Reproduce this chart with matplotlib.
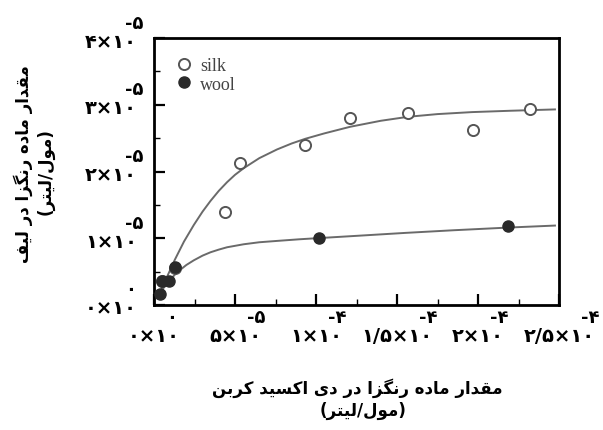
import numpy as np
import matplotlib.pyplot as plt
from matplotlib.ticker import MultipleLocator, FixedLocator

# ---------- data (mol/L) ----------
# silk (open circles)
silk_x = np.array([0.49, 1.27, 4.41, 5.28, 9.34, 12.11, 15.70, 19.70, 23.21]) * 1e-5
silk_y = np.array([0.36, 0.56, 1.39, 2.12, 2.40, 2.80, 2.87, 2.62, 2.94]) * 1e-5
# wool (filled circles)
wool_x = np.array([0.35, 0.49, 0.90, 1.27, 10.16, 21.86]) * 1e-5
wool_y = np.array([0.165, 0.36, 0.36, 0.565, 1.00, 1.19]) * 1e-5

# fitted curves, points
silk_fit_x = np.array([0.35, 0.80, 1.29, 1.85, 2.46, 3.00, 3.49, 4.00, 4.51, 5.00, 5.54, 6.50,
                       7.59, 8.50, 9.34, 10.50, 12.11, 14.00, 15.70, 17.50, 19.64, 22.00, 24.75]) * 1e-5
silk_fit_y = np.array([0.17, 0.42, 0.68, 0.95, 1.20, 1.40, 1.56, 1.71, 1.84, 1.95, 2.05, 2.20,
                       2.33, 2.42, 2.49, 2.57, 2.67, 2.76, 2.82, 2.86, 2.89, 2.91, 2.93]) * 1e-5
wool_fit_x = np.array([0.35, 0.80, 1.43, 2.00, 2.46, 3.00, 3.49, 4.00, 4.51, 5.54, 6.50,
                       7.59, 9.00, 10.22, 12.50, 15.50, 18.50, 21.86, 24.75]) * 1e-5
wool_fit_y = np.array([0.17, 0.33, 0.49, 0.60, 0.67, 0.74, 0.79, 0.83, 0.865, 0.91, 0.94,
                       0.96, 0.985, 1.003, 1.036, 1.08, 1.12, 1.16, 1.19]) * 1e-5

x_ticks = [0, 5e-5, 1e-4, 1.5e-4, 2e-4, 2.5e-4]
x_mant = ['۰', '۵', '۱', '۱/۵', '۲', '۲/۵']
x_exp = ['۰', '-۵', '-۴', '-۴', '-۴', '-۴']
y_ticks = [0, 1e-5, 2e-5, 3e-5, 4e-5]
y_mant = ['۰', '۱', '۲', '۳', '۴']
y_exp = ['۰', '-۵', '-۵', '-۵', '-۵']

xlabel_1 = 'مقدار ماده رنگزا در دی اکسید کربن'
ylabel_1 = 'مقدار ماده رنگزا در لیف'
unit_label = '(مول/لیتر)'

# ---------- simple persian shaping (matplotlib has no RTL / joining) ----------
# base code of the isolated presentation form, and whether the letter joins to the next one
FORMS = {'ا': (0xFE8D, 0), 'ب': (0xFE8F, 1), 'ت': (0xFE95, 1), 'د': (0xFEA9, 0),
         'ر': (0xFEAD, 0), 'ز': (0xFEAF, 0), 'س': (0xFEB1, 1), 'ف': (0xFED1, 1),
         'ق': (0xFED5, 1), 'ل': (0xFEDD, 1), 'م': (0xFEE1, 1), 'ن': (0xFEE5, 1),
         'ه': (0xFEE9, 1), 'و': (0xFEED, 0), 'ی': (0xFBFC, 1), 'ک': (0xFB8E, 1),
         'گ': (0xFB92, 1)}

def fa(text):
    out = []
    for i, ch in enumerate(text):
        if ch not in FORMS:
            out.append(ch)
            continue
        base, dual = FORMS[ch]
        prev = text[i-1] if i > 0 else ''
        nxt = text[i+1] if i + 1 < len(text) else ''
        join_prev = prev in FORMS and FORMS[prev][1] == 1
        join_next = dual == 1 and nxt in FORMS
        if join_prev and join_next:
            off = 3
        elif join_prev:
            off = 1
        elif join_next:
            off = 2
        else:
            off = 0
        out.append(chr(base + off))
    mirror = {'(': ')', ')': '('}
    return ''.join(mirror.get(c, c) for c in reversed(out))

plt.rcParams['font.family'] = ['DejaVu Sans']

fig = plt.figure(figsize=(6.03, 4.31), dpi=100)
ax = fig.add_axes([154/603, 1-306/431, 405/603, 267/431])

curve_col = '#6a6a6a'
ax.plot(silk_fit_x, silk_fit_y, color=curve_col, lw=1.4, zorder=2)
ax.plot(wool_fit_x, wool_fit_y, color=curve_col, lw=1.4, zorder=2)

ax.plot(silk_x, silk_y, 'o', ms=8, mfc='white', mec='#555555', mew=1.4, label='silk', zorder=3)
ax.plot(wool_x, wool_y, 'o', ms=8, mfc='#2a2a2a', mec='#2a2a2a', mew=1.0, label='wool', zorder=4)

ax.set_xlim(0, 2.5e-4)
ax.set_ylim(0, 4e-5)

ax.xaxis.set_major_locator(FixedLocator(x_ticks))
ax.xaxis.set_minor_locator(MultipleLocator(2.5e-5))
ax.yaxis.set_major_locator(FixedLocator(y_ticks))
ax.yaxis.set_minor_locator(MultipleLocator(0.5e-5))

ax.tick_params(which='both', direction='in', top=False, right=False,
               labelbottom=False, labelleft=False)
ax.tick_params(which='major', length=8, width=1.6)
ax.tick_params(which='minor', length=4, width=1.0)

for s in ax.spines.values():
    s.set_linewidth(2.0)

# tick labels "a×10" with the exponent set high over the "10" like in the book
for t, m, e in zip(y_ticks, y_mant, y_exp):
    base = ax.annotate(m + '×۱۰', xy=(0, t), xycoords=ax.get_yaxis_transform(),
                       xytext=(-17, -3), textcoords='offset pixels',
                       ha='right', va='center', fontsize=14, fontweight='bold')
    ax.annotate(e, xy=(1, 1), xycoords=base, xytext=(-12, 0), textcoords='offset pixels',
                ha='left', va='bottom', fontsize=13, fontweight='bold')

for t, m, e in zip(x_ticks, x_mant, x_exp):
    base = ax.annotate(m + '×۱۰', xy=(t, 0), xycoords=ax.get_xaxis_transform(),
                       xytext=(0, -31), textcoords='offset pixels',
                       ha='center', va='center', fontsize=14, fontweight='bold')
    ax.annotate(e, xy=(1, 1), xycoords=base, xytext=(-14, 0), textcoords='offset pixels',
                ha='left', va='bottom', fontsize=13, fontweight='bold')

leg = ax.legend(loc='upper left', bbox_to_anchor=(0.015, 0.99), frameon=False,
                prop={'family': 'Liberation Serif', 'size': 13},
                handlelength=0.8, handletextpad=0.5, labelspacing=0.1, labelcolor='#444444')

# axis titles (bold persian, two lines each)
fig.text(357/603, 1-388/431, fa(xlabel_1), ha='center', va='center', fontsize=12, fontweight='bold')
fig.text(363/603, 1-411/431, fa(unit_label), ha='center', va='center', fontsize=12, fontweight='bold')
fig.text(23/603, 1-164/431, fa(ylabel_1), ha='center', va='center', rotation=90, fontsize=12, fontweight='bold')
fig.text(46/603, 1-172/431, fa(unit_label), ha='center', va='center', rotation=90, fontsize=12, fontweight='bold')

fig.savefig('out.png', dpi=100)
